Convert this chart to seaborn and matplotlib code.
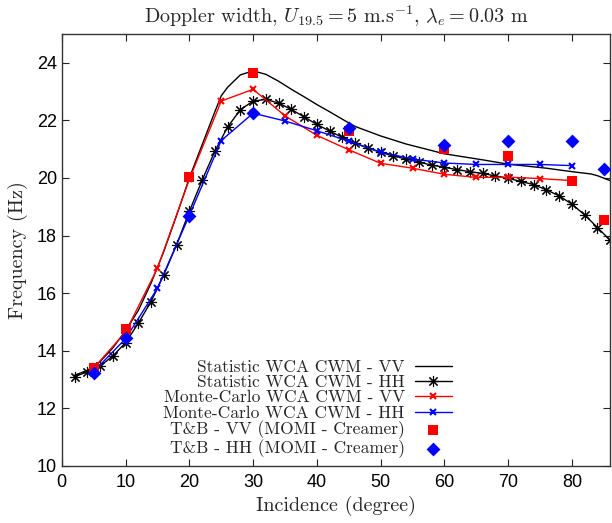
import matplotlib
matplotlib.use("Agg")
import matplotlib.pyplot as plt
import seaborn as sns
import pandas as pd
import numpy as np

# ---- data ----
stat_hh_x = [2, 4, 6, 8, 10, 12, 14, 16, 18, 20, 22, 24, 26, 28, 30, 32, 34, 36, 38, 40,
             42, 44, 46, 48, 50, 52, 54, 56, 58, 60, 62, 64, 66, 68, 70, 72, 74, 76, 78, 80,
             82, 84, 86]
stat_hh_y = [13.10, 13.27, 13.47, 13.82, 14.28, 14.96, 15.71, 16.64, 17.68, 18.84, 19.92, 20.93,
             21.77, 22.37, 22.67, 22.73, 22.60, 22.38, 22.12, 21.86, 21.63, 21.41, 21.21, 21.04,
             20.89, 20.76, 20.66, 20.55, 20.45, 20.37, 20.29, 20.22, 20.16, 20.07, 19.99, 19.88,
             19.77, 19.59, 19.38, 19.09, 18.72, 18.28, 17.84]

stat_vv_x = [2, 4, 6, 8, 10, 12, 14, 16, 18, 20, 22, 24, 25, 26, 28, 30, 32, 34, 36, 38, 40,
             42, 44, 46, 50, 54, 60, 66, 70, 76, 80, 83, 84, 86]
stat_vv_y = [13.15, 13.32, 13.62, 14.10, 14.70, 15.40, 16.35, 17.45, 18.70, 20.00, 21.15, 22.30,
             22.85, 23.15, 23.58, 23.72, 23.60, 23.36, 23.08, 22.82, 22.55, 22.30, 22.04, 21.79,
             21.46, 21.18, 20.84, 20.63, 20.48, 20.34, 20.22, 20.14, 20.08, 19.91]

mc_x = [5, 10, 15, 20, 25, 30, 35, 40, 45, 50, 55, 60, 65, 70, 75, 80]
mc_vv_y = [13.40, 14.65, 16.87, 19.95, 22.67, 23.08, 22.16, 21.48, 20.98, 20.51, 20.34, 20.13,
           20.02, 20.03, 19.98, 19.91]
mc_hh_y = [13.28, 14.42, 16.17, 18.70, 21.30, 22.25, 21.98, 21.64, 21.28, 20.90, 20.66, 20.52,
           20.47, 20.47, 20.47, 20.43]

tb_x = [5, 10, 20, 30, 45, 60, 70, 80, 85]
tb_vv_y = [13.39, 14.75, 20.02, 23.65, 21.64, 20.99, 20.76, 19.91, 18.54]
tb_hh_y = [13.24, 14.46, 18.68, 22.27, 21.75, 21.15, 21.28, 21.28, 20.31]

labels = ["Statistic WCA CWM - VV", "Statistic WCA CWM - HH",
          "Monte-Carlo WCA CWM - VV", "Monte-Carlo WCA CWM - HH",
          "T&B - VV (MOMI - Creamer)", "T&B - HH (MOMI - Creamer)"]

# ---- style ----
sns.set_style("ticks")
plt.rcParams["mathtext.fontset"] = "cm"
plt.rcParams["axes.unicode_minus"] = False
serif = "cmr10"

fig = plt.figure(figsize=(6.12, 5.23), dpi=100)
ax = fig.add_axes([0.101, 0.109, 0.896, 0.826])

df_svv = pd.DataFrame({"x": stat_vv_x, "y": stat_vv_y})
df_shh = pd.DataFrame({"x": stat_hh_x, "y": stat_hh_y})
df_mc = pd.DataFrame({"x": mc_x, "vv": mc_vv_y, "hh": mc_hh_y})
df_tb = pd.DataFrame({"x": tb_x, "vv": tb_vv_y, "hh": tb_hh_y})

sns.lineplot(data=df_svv, x="x", y="y", ax=ax, color="black", lw=1.0, label=labels[0])
sns.lineplot(data=df_shh, x="x", y="y", ax=ax, color="black", lw=1.0, marker=(8, 2, 0),
             markersize=8, markeredgewidth=0.8, markeredgecolor="black", label=labels[1])
sns.lineplot(data=df_mc, x="x", y="vv", ax=ax, color="#ff0000", lw=1.0, marker="x",
             markersize=4, markeredgewidth=1.5, markeredgecolor="#ff0000", label=labels[2])
sns.lineplot(data=df_mc, x="x", y="hh", ax=ax, color="#0000ff", lw=1.0, marker="x",
             markersize=4, markeredgewidth=1.5, markeredgecolor="#0000ff", label=labels[3])
sns.scatterplot(data=df_tb, x="x", y="vv", ax=ax, color="#ff0000", marker="s", s=60,
                linewidth=0, label=labels[4], zorder=5)
sns.scatterplot(data=df_tb, x="x", y="hh", ax=ax, color="#0000ff", marker="D", s=50,
                linewidth=0, label=labels[5], zorder=6)

ax.set_xlim(0, 86)
ax.set_ylim(10, 25)
ax.set_xticks(np.arange(0, 81, 10))
ax.set_yticks(np.arange(10, 25, 2))
ax.tick_params(direction="in", top=True, right=True, length=5, width=0.8,
               labelsize=13, colors="#222222", labelcolor="black")
ax.tick_params(axis="x", pad=6)
for lab in ax.get_xticklabels() + ax.get_yticklabels():
    lab.set_fontfamily("Liberation Sans")
for sp in ax.spines.values():
    sp.set_linewidth(1.0)
    sp.set_color("#333333")

ax.set_xlabel("Incidence (degree)", fontfamily=serif, fontsize=14.5, labelpad=3)
ax.set_ylabel("Frequency (Hz)", fontfamily=serif, fontsize=14.5, labelpad=6)
ax.set_title(r"Doppler width, $U_{19.5}=5$ m.s$^{-1}$, $\lambda_e=0.03$ m",
             fontfamily=serif, fontsize=14.5, pad=8)

leg = ax.legend(loc="lower right", bbox_to_anchor=(0.736, -0.014), frameon=False,
                markerfirst=False, prop={"family": serif, "size": 12.5},
                handlelength=2.1, labelspacing=0.0, handletextpad=0.6, borderpad=0.3)
leg._legend_box.align = "right"
for t in leg.get_texts():
    t.set_horizontalalignment("right")

fig.savefig("out.png", dpi=100)
